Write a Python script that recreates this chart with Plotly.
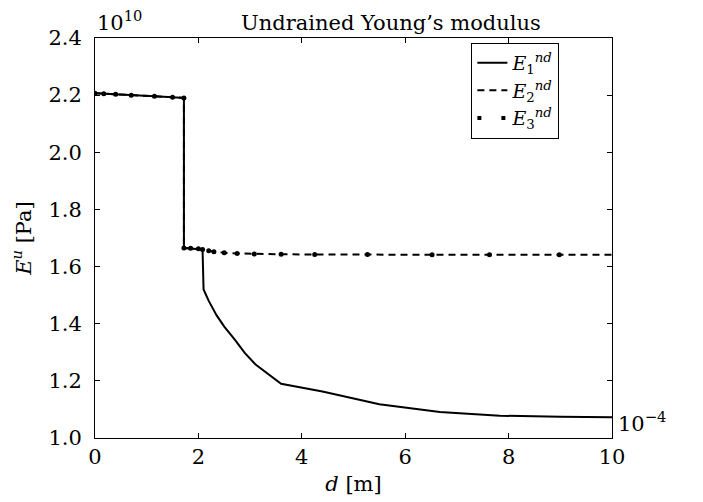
import plotly.graph_objects as go

# ---- data (E in units of 1e10 Pa, d in m) ----
d_top = [0, 0.17, 0.4, 0.7, 1.15, 1.5, 1.72]
E_top = [2.207, 2.205, 2.203, 2.200, 2.196, 2.193, 2.190]

d1 = d_top + [1.72, 1.85, 2.0, 2.08, 2.1, 2.2, 2.35, 2.5, 2.7, 2.9, 3.1, 3.6, 4.4, 5.5, 6.67, 7.83, 9.0, 10.0]
E1 = E_top + [1.665, 1.664, 1.662, 1.660, 1.520, 1.480, 1.430, 1.390, 1.345, 1.297, 1.258, 1.190, 1.163, 1.118, 1.091, 1.078, 1.074, 1.073]

d2 = d_top + [1.72, 1.85, 2.0, 2.08, 2.2, 2.3, 2.5, 2.75, 3.08, 3.6, 4.4, 5.5, 6.67, 7.83, 9.0, 10.0]
E2 = E_top + [1.665, 1.664, 1.662, 1.660, 1.655, 1.652, 1.648, 1.646, 1.644, 1.643, 1.642, 1.642, 1.641, 1.641, 1.641, 1.641]

d3 = d_top + [1.72, 1.85, 2.0, 2.08, 2.2, 2.3, 2.5, 2.75, 3.08, 3.6, 4.25, 5.27, 6.52, 7.63, 8.98]
E3 = E_top + [1.665, 1.664, 1.662, 1.660, 1.655, 1.652, 1.648, 1.646, 1.644, 1.643, 1.642, 1.642, 1.641, 1.641, 1.641]

x_ticks = [0, 2, 4, 6, 8, 10]
x_ticklabels = ["0", "2", "4", "6", "8", "10"]
y_ticks = [1.0, 1.2, 1.4, 1.6, 1.8, 2.0, 2.2, 2.4]
y_ticklabels = ["1.0", "1.2", "1.4", "1.6", "1.8", "2.0", "2.2", "2.4"]

SCALE = 1e10
FONT = "DejaVu Serif"
FS = 21

fig = go.Figure()
fig.add_trace(go.Scatter(
    x=d1, y=[v * SCALE for v in E1], mode="lines",
    line=dict(color="black", width=2),
    name="<i>E</i><sub>1</sub><sup><i>nd</i></sup>"))
fig.add_trace(go.Scatter(
    x=d2, y=[v * SCALE for v in E2], mode="lines",
    line=dict(color="black", width=2, dash="7px,5px"),
    name="<i>E</i><sub>2</sub><sup><i>nd</i></sup>"))
# E3: node dots + dotted legend entry
fig.add_trace(go.Scatter(
    x=d3, y=[v * SCALE for v in E3], mode="markers",
    marker=dict(color="black", size=5),
    showlegend=False))
fig.add_trace(go.Scatter(
    x=[None], y=[None], mode="lines",
    line=dict(color="black", width=4, dash="4px,20px"),
    name="<i>E</i><sub>3</sub><sup><i>nd</i></sup>"))

axis_common = dict(
    showgrid=False, zeroline=False, showline=True, linecolor="black",
    linewidth=1, mirror="ticks", ticks="inside", ticklen=5,
    tickcolor="black", tickfont=dict(family=FONT, size=FS, color="black"),
)

fig.update_xaxes(
    range=[0, 10], tickvals=x_ticks, ticktext=x_ticklabels,
    title=dict(text="<i>d</i> [m]", font=dict(family=FONT, size=FS, color="black"), standoff=8),
    **axis_common)
fig.update_yaxes(
    range=[1.0 * SCALE, 2.4 * SCALE], tickvals=[v * SCALE for v in y_ticks],
    ticktext=y_ticklabels, ticklabelstandoff=8,
    title=dict(text="<i>E</i><sup><i>u</i></sup> [Pa]", font=dict(family=FONT, size=FS, color="black"), standoff=14),
    **axis_common)

fig.update_layout(
    width=703, height=502,
    margin=dict(l=85, r=99, t=30, b=72),
    plot_bgcolor="white", paper_bgcolor="white",
    font=dict(family=FONT, color="black"),
    legend=dict(
        x=0.728, y=0.988, xanchor="left", yanchor="top",
        bordercolor="black", borderwidth=1, bgcolor="white",
        font=dict(family=FONT, size=19, color="black"),
        tracegroupgap=0, itemwidth=30,
    ),
    annotations=[
        dict(text="Undrained Young’s modulus", xref="paper", yref="paper",
             x=0.572, y=1.0, xanchor="center", yanchor="bottom", yshift=1,
             showarrow=False, font=dict(family=FONT, size=FS, color="black")),
        dict(text="10<sup>10</sup>", xref="paper", yref="paper",
             x=0.0, y=1.0, xanchor="left", yanchor="bottom", yshift=1,
             showarrow=False, font=dict(family=FONT, size=FS, color="black")),
        dict(text="10<sup>−4</sup>", xref="paper", yref="paper",
             x=1.0, y=0.0, xanchor="left", yanchor="bottom", xshift=4,
             showarrow=False, font=dict(family=FONT, size=FS, color="black")),
    ],
)

fig.write_html("out.html")
